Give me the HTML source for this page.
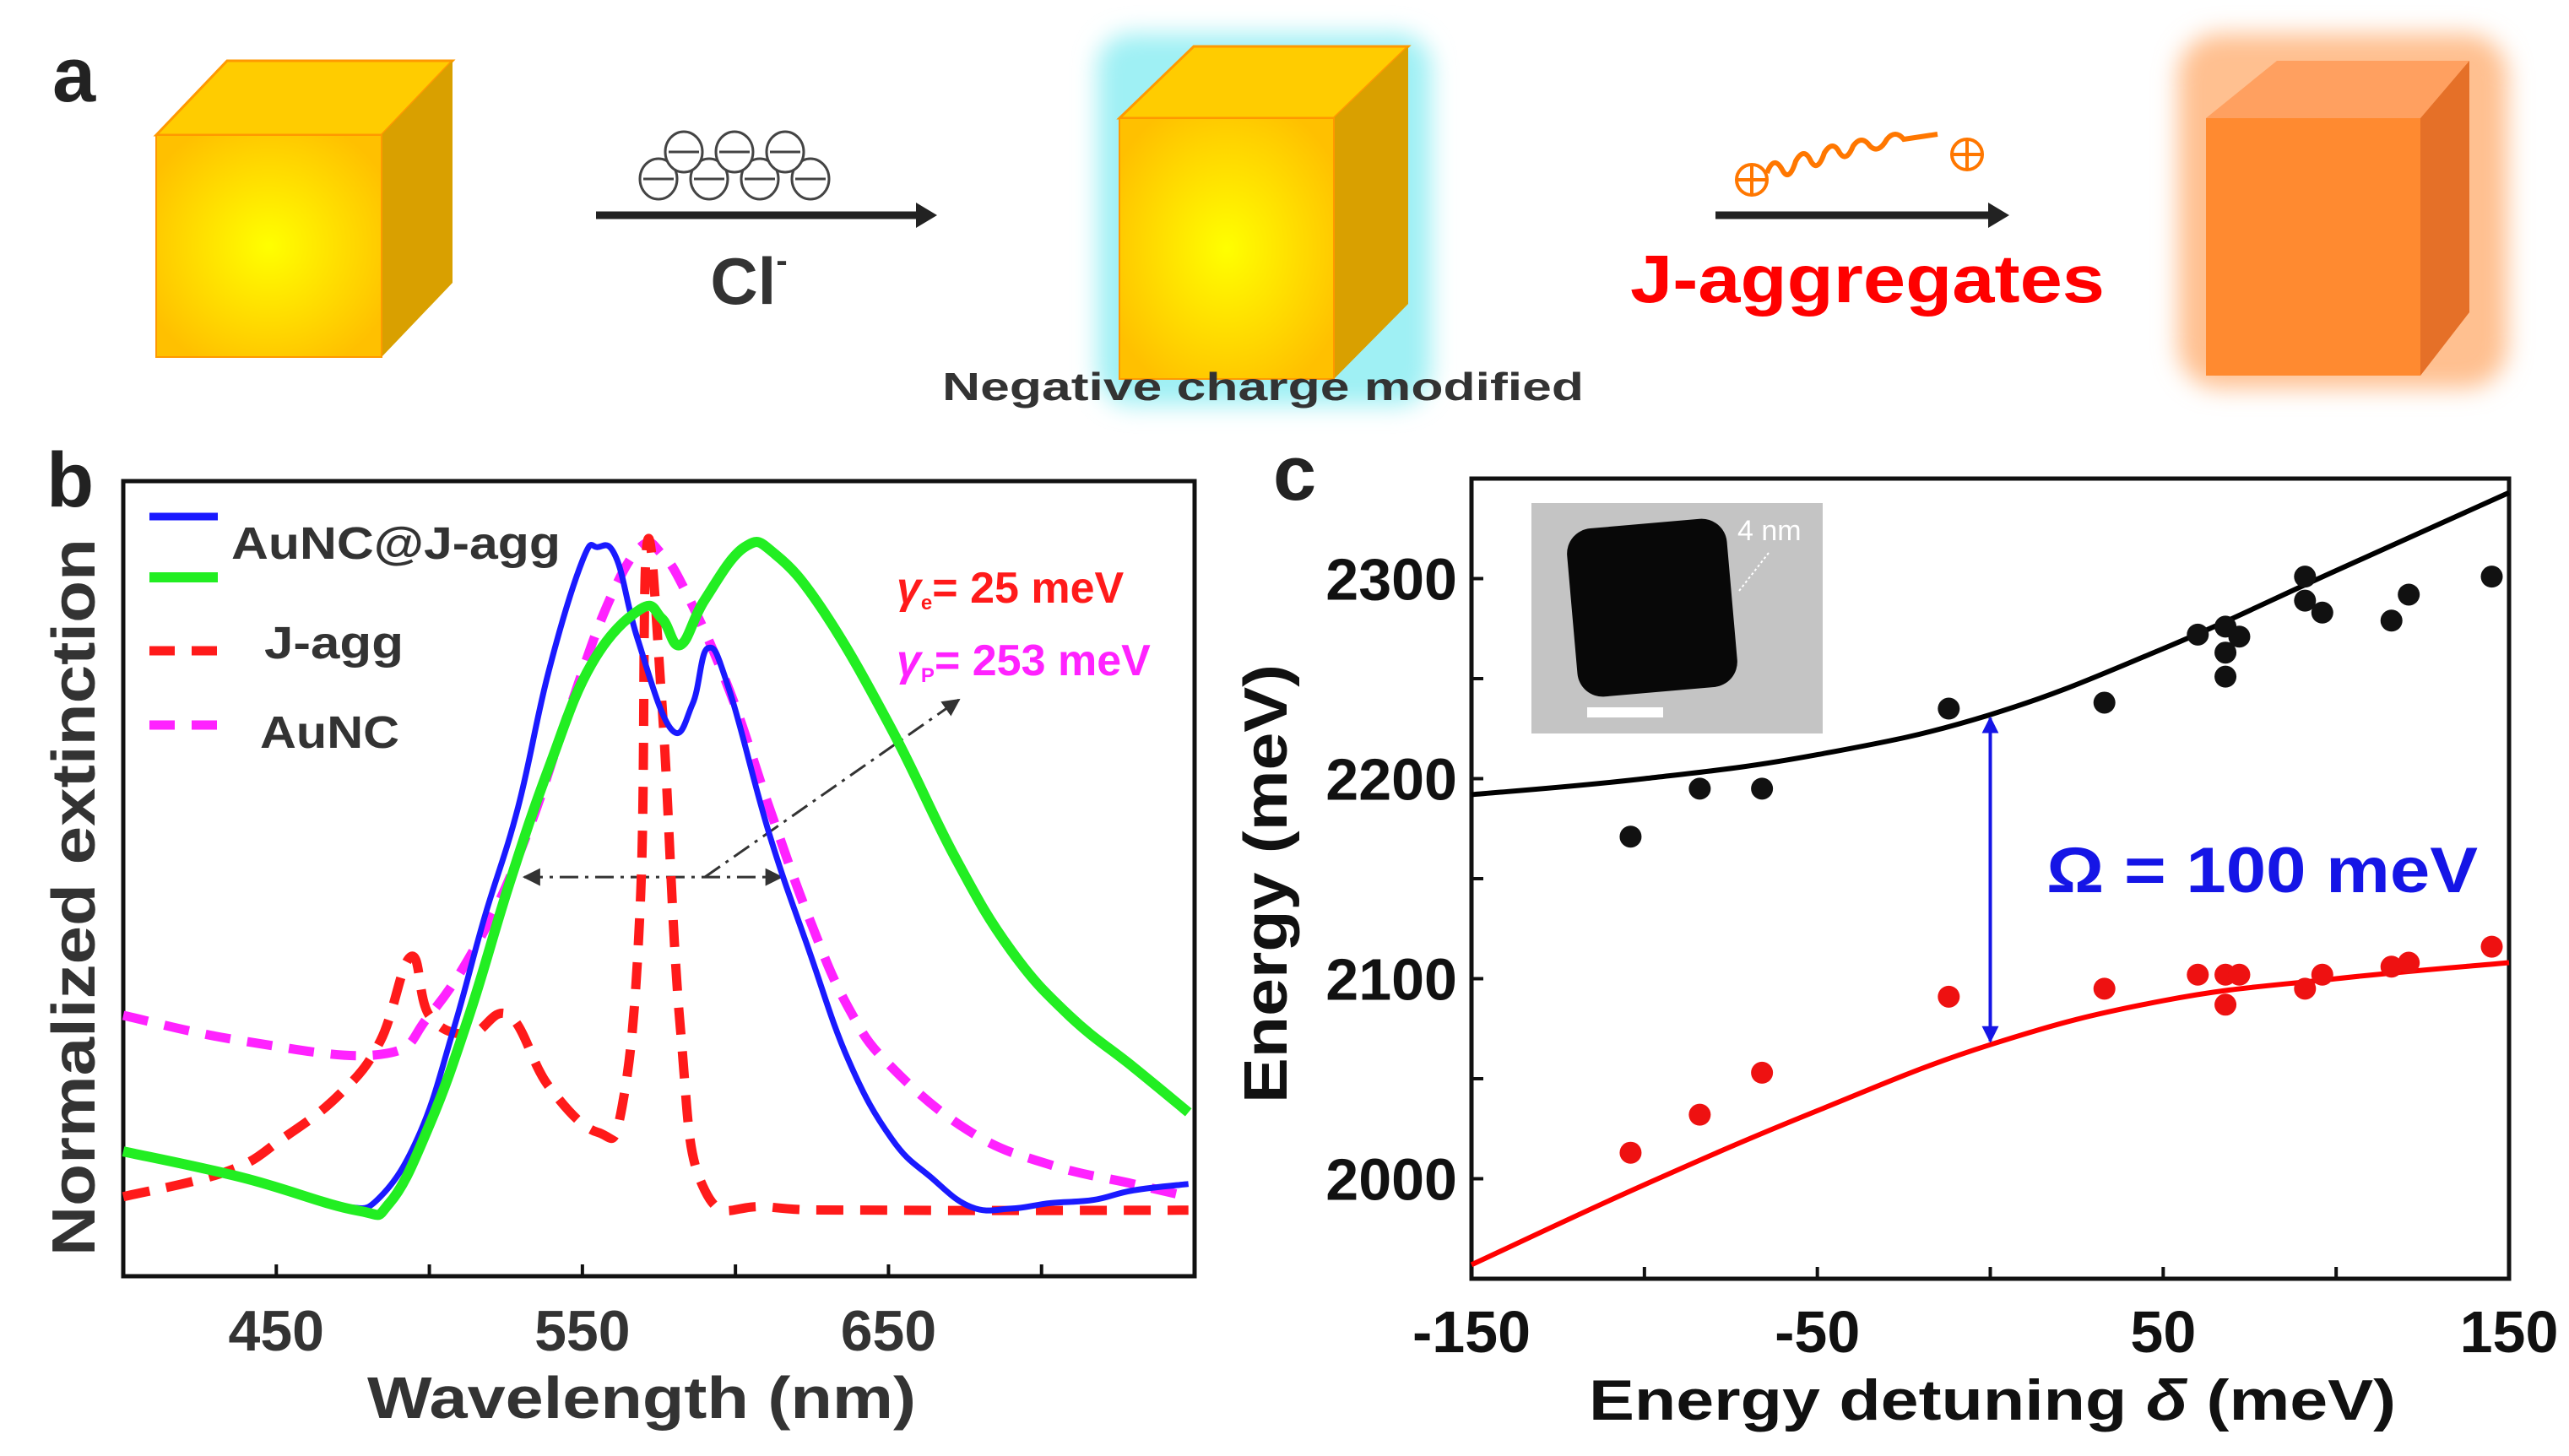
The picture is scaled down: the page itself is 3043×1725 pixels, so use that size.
<!DOCTYPE html>
<html><head><meta charset="utf-8">
<style>
html,body{margin:0;padding:0;background:#fff;}
svg{display:block;font-family:"Liberation Sans",Arial,sans-serif;}
</style></head>
<body>
<svg id="fig" width="3043" height="1725" viewBox="0 0 3043 1725" xmlns="http://www.w3.org/2000/svg">
<defs>
  <radialGradient id="frontR" cx="0.5" cy="0.5" r="0.6">
    <stop offset="0" stop-color="#ffff00"/><stop offset="1" stop-color="#ffc000"/>
  </radialGradient>
  <filter id="blur20"><feGaussianBlur stdDeviation="14"/></filter>
  <marker id="arrH" viewBox="0 0 10 10" refX="9" refY="5" markerWidth="7" markerHeight="7" orient="auto-start-reverse"><path d="M0,0 L10,5 L0,10 z" fill="#333"/></marker>
  <marker id="arrB" viewBox="0 0 10 10" refX="9" refY="5" markerWidth="5" markerHeight="5" orient="auto-start-reverse"><path d="M0,0 L10,5 L0,10 z" fill="#1515e6"/></marker>
</defs>

<!-- Panel a -->
<g>
  <text x="62" y="120" font-size="92" font-weight="bold" fill="#222">a</text>
  <g>
    <polygon points="185,160 269,72 536,72 452,160" fill="#ffcc00" stroke="#ff9900" stroke-width="3"/>
    <polygon points="452,160 536,72 536,335 452,423" fill="#d9a000"/>
    <rect x="185" y="160" width="267" height="263" fill="url(#frontR)" stroke="#ff9900" stroke-width="2"/>
  </g>
  <g>
    <line x1="706" y1="255" x2="1090" y2="255" stroke="#222" stroke-width="9"/>
    <polygon points="1085,240 1110,255 1085,270" fill="#222"/>
  </g>
  <g fill="#fff" stroke="#444" stroke-width="3">
    <ellipse cx="780" cy="212" rx="22" ry="24"/><line x1="762" y1="212" x2="798" y2="212"/>
    <ellipse cx="840" cy="212" rx="22" ry="24"/><line x1="822" y1="212" x2="858" y2="212"/>
    <ellipse cx="900" cy="212" rx="22" ry="24"/><line x1="882" y1="212" x2="918" y2="212"/>
    <ellipse cx="960" cy="212" rx="22" ry="24"/><line x1="942" y1="212" x2="978" y2="212"/>
    <ellipse cx="810" cy="180" rx="22" ry="24"/><line x1="792" y1="180" x2="828" y2="180"/>
    <ellipse cx="870" cy="180" rx="22" ry="24"/><line x1="852" y1="180" x2="888" y2="180"/>
    <ellipse cx="930" cy="180" rx="22" ry="24"/><line x1="912" y1="180" x2="948" y2="180"/>
  </g>
  <text x="887" y="360" font-size="78" font-weight="bold" fill="#333" text-anchor="middle">Cl<tspan font-size="40" dy="-38">-</tspan></text>
  <g>
    <rect x="1300" y="40" width="395" height="440" rx="40" fill="#9ff0f4" filter="url(#blur20)"/>
    <polygon points="1326,140 1414,55 1668,55 1580,140" fill="#ffcc00" stroke="#ff9900" stroke-width="3"/>
    <polygon points="1580,140 1668,55 1668,360 1580,449" fill="#d9a000"/>
    <rect x="1326" y="140" width="254" height="309" fill="url(#frontR)" stroke="#ff9900" stroke-width="2"/>
  </g>
  <text x="1116" y="474" font-size="46" font-weight="bold" fill="#333" textLength="760" lengthAdjust="spacingAndGlyphs">Negative charge modified</text>
  <g fill="none" stroke="#ff7700" stroke-width="6">
    <circle cx="2075" cy="213" r="18" stroke-width="4"/><line x1="2057" y1="213" x2="2093" y2="213" stroke-width="4"/><line x1="2075" y1="195" x2="2075" y2="231" stroke-width="4"/>
    <path d="M2093,205 q8,-22 18,-4 q8,16 16,-10 q10,-18 18,0 q8,14 16,-10 q10,-16 18,0 q8,12 16,-8 q10,-14 20,0 q10,10 20,-8 q10,-12 20,0 l40,-6"/>
    <circle cx="2330" cy="183" r="18" stroke-width="4"/><line x1="2312" y1="183" x2="2348" y2="183" stroke-width="4"/><line x1="2330" y1="165" x2="2330" y2="201" stroke-width="4"/>
  </g>
  <g>
    <line x1="2032" y1="255" x2="2360" y2="255" stroke="#222" stroke-width="9"/>
    <polygon points="2355,240 2380,255 2355,270" fill="#222"/>
  </g>
  <text x="1931" y="358" font-size="80" font-weight="bold" fill="#ff0000" textLength="562" lengthAdjust="spacingAndGlyphs">J-aggregates</text>
  <g>
    <rect x="2580" y="40" width="390" height="420" rx="50" fill="#ffc090" filter="url(#blur20)"/>
    <polygon points="2613,140 2697,72 2925,72 2867,140" fill="#ffa060"/>
    <polygon points="2867,140 2925,72 2925,370 2867,445" fill="#e57028"/>
    <rect x="2613" y="140" width="254" height="305" fill="#ff8a30"/>
  </g>
</g>

<!-- Panel b -->
<g id="pb">
  <text x="55" y="600" font-size="92" font-weight="bold" fill="#222">b</text>
</g>
<!-- Panel c -->
<g id="pc">
  <text x="1508" y="592" font-size="92" font-weight="bold" fill="#222">c</text>
</g>
</svg>
<script>
// ---------- Panel b data ----------
const wlBlue  = [400,428,452,473,484,497,508,518,529,539,550,555,561,568,579,586,591,598,611,624,637,651,664,677,690,703,717,730,748];
const extBlue = [0.157,0.136,0.108,0.087,0.10,0.181,0.312,0.451,0.59,0.761,0.90,0.917,0.904,0.802,0.688,0.72,0.79,0.737,0.557,0.41,0.271,0.173,0.124,0.087,0.085,0.092,0.096,0.108,0.116];
const wlGreen  = [400,439,476,487,500,513,526,539,553,569,576,582,590,603,613,629,651,672,690,709,730,748];
const extGreen = [0.157,0.124,0.083,0.092,0.19,0.328,0.492,0.639,0.77,0.839,0.827,0.794,0.851,0.917,0.908,0.835,0.688,0.525,0.41,0.328,0.263,0.206];
const wlAuNC  = [400,439,484,500,518,532,545,558,569,576,584,598,611,624,637,651,677,703,730,748];
const extAuNC = [0.328,0.296,0.279,0.328,0.435,0.557,0.704,0.843,0.917,0.908,0.859,0.737,0.59,0.451,0.337,0.263,0.181,0.14,0.116,0.10];
const wlJ  = [400,434,452,471,484,494,500,513,526,539,555,563,569,571,576,582,590,611,651,748];
const extJ = [0.10,0.132,0.173,0.23,0.296,0.402,0.328,0.304,0.328,0.239,0.181,0.214,0.475,0.917,0.72,0.312,0.108,0.087,0.083,0.083];
const bTicks = [450,550,650];
const bMinor = [400,450,500,550,600,650,700,750];

// ---------- Panel c data ----------
const detuneFit = [-150,-100,-50,0,50,100,150];
const upperFit  = [2192,2200,2212,2232,2265,2304,2343];
const lowerFit  = [1957,1997,2034,2067,2089,2100,2108];
const upperDetune = [-104,-84,-66,-12,33,60,68,68,68,72,91,91,96,116,121,145];
const upperEnergy = [2171,2195,2195,2235,2238,2272,2276,2263,2251,2271,2301,2289,2283,2279,2292,2301];
const lowerDetune = [-104,-84,-66,-12,33,60,68,68,72,91,96,116,121,145];
const lowerEnergy = [2013,2032,2053,2091,2095,2102,2102,2087,2102,2095,2102,2106,2108,2116];
const cXTicks = [-150,-50,50,150];
const cXMinor = [-150,-100,-50,0,50,100,150];
const cYTicks = [2000,2100,2200,2300];
const cYMinor = [2050,2150,2250];

const NS = 'http://www.w3.org/2000/svg';
function mk(parent, tag, attrs, text){
  const e = document.createElementNS(NS, tag);
  for (const k in attrs) e.setAttribute(k, attrs[k]);
  if (text !== undefined) e.textContent = text;
  parent.appendChild(e);
  return e;
}
// smooth Catmull-Rom path
function pathD(xs, ys, fx, fy){
  const P = xs.map((v,i)=>[fx(v), fy(ys[i])]);
  let d = 'M'+P[0][0].toFixed(1)+','+P[0][1].toFixed(1);
  for (let i=0;i<P.length-1;i++){
    const p0=P[Math.max(0,i-1)], p1=P[i], p2=P[i+1], p3=P[Math.min(P.length-1,i+2)];
    const t=0.2;
    const c1=[p1[0]+(p2[0]-p0[0])*t, p1[1]+(p2[1]-p0[1])*t];
    const c2=[p2[0]-(p3[0]-p1[0])*t, p2[1]-(p3[1]-p1[1])*t];
    d += ' C'+c1[0].toFixed(1)+','+c1[1].toFixed(1)+' '+c2[0].toFixed(1)+','+c2[1].toFixed(1)+' '+p2[0].toFixed(1)+','+p2[1].toFixed(1);
  }
  return d;
}

// ---- Panel b ----
const pb = document.getElementById('pb');
const bL=146,bR=1415,bT=570,bB=1512;
const bx = v => bL + (v-400)/(750-400)*(bR-bL);
const by = v => bB - v*(bB-bT);
let el;
el = mk(pb,'rect',{x:bL,y:bT,width:bR-bL,height:bB-bT,fill:'none',stroke:'#111','stroke-width':5});


bMinor.forEach(t=>{
  el = mk(pb,'line',{x1:bx(t),x2:bx(t),y1:bB,y2:bB-14,stroke:'#111','stroke-width':4});
  
  
});
bTicks.forEach(t=>{
  el = mk(pb,'text',{x:bx(t),y:1600,'font-size':68,'font-weight':'bold',fill:'#333','text-anchor':'middle'},String(t));
  
  
});
el = mk(pb,'text',{x:760,y:1680,'font-size':70,'font-weight':'bold',fill:'#333','text-anchor':'middle',textLength:650,lengthAdjust:'spacingAndGlyphs'},'Wavelength (nm)');


el = mk(pb,'text',{x:0,y:0,'font-size':72,'font-weight':'bold',fill:'#333','text-anchor':'middle',textLength:850,lengthAdjust:'spacingAndGlyphs',transform:'translate(112,1063) rotate(-90)'},'Normalized extinction');



// dash-dot FWHM arrows
el = mk(pb,'line',{x1:bx(531),x2:bx(615),y1:by(0.502),y2:by(0.502),stroke:'#333','stroke-width':3,'stroke-dasharray':'22,8,4,8','marker-start':'url(#arrH)','marker-end':'url(#arrH)'});


el = mk(pb,'line',{x1:bx(590),x2:bx(673),y1:by(0.502),y2:by(0.725),stroke:'#333','stroke-width':3,'stroke-dasharray':'22,8,4,8','marker-end':'url(#arrH)'});



el = mk(pb,'path',{d:pathD(wlAuNC,extAuNC,bx,by),fill:'none',stroke:'#ff22ff','stroke-width':11,'stroke-dasharray':'30,20','stroke-linejoin':'round'});


el = mk(pb,'path',{d:pathD(wlJ,extJ,bx,by),fill:'none',stroke:'#ff1a1a','stroke-width':11,'stroke-dasharray':'32,20','stroke-linejoin':'round'});


el = mk(pb,'path',{d:pathD(wlBlue,extBlue,bx,by),fill:'none',stroke:'#1a1aff','stroke-width':7,'stroke-linejoin':'round'});


el = mk(pb,'path',{d:pathD(wlGreen,extGreen,bx,by),fill:'none',stroke:'#22ee22','stroke-width':12,'stroke-linejoin':'round'});



// legend
const legItems = [
  {y:612, c:'#1a1aff', w:9, dash:''},
  {y:684, c:'#22ee22', w:12, dash:''},
  {y:771, c:'#ff1a1a', w:11, dash:'30,20'},
  {y:859, c:'#ff22ff', w:11, dash:'30,20'}
];
legItems.forEach(it=>{
  el = mk(pb,'line',{x1:177,x2:258,y1:it.y,y2:it.y,stroke:it.c,'stroke-width':it.w,'stroke-dasharray':it.dash});
  
  
});
el = mk(pb,'text',{x:274,y:662,'font-size':54,'font-weight':'bold',fill:'#333',textLength:390,lengthAdjust:'spacingAndGlyphs'},'AuNC@J-agg');


el = mk(pb,'text',{x:313,y:780,'font-size':54,'font-weight':'bold',fill:'#333',textLength:165,lengthAdjust:'spacingAndGlyphs'},'J-agg');


el = mk(pb,'text',{x:308,y:886,'font-size':54,'font-weight':'bold',fill:'#333',textLength:165,lengthAdjust:'spacingAndGlyphs'},'AuNC');


el = mk(pb,'text',{x:1062,y:714,'font-size':52,'font-weight':'bold',fill:'#ff1a1a'});
el.innerHTML = '<tspan font-style="italic">γ</tspan><tspan font-size="24" dy="8">e</tspan><tspan dy="-8">= 25 meV</tspan>';


el = mk(pb,'text',{x:1062,y:800,'font-size':52,'font-weight':'bold',fill:'#ff22ff'});
el.innerHTML = '<tspan font-style="italic">γ</tspan><tspan font-size="24" dy="8">P</tspan><tspan dy="-8">= 253 meV</tspan>';



// ---- Panel c ----
const pc = document.getElementById('pc');
const cL=1743,cR=2972,cT=567,cB=1515;
const cx = v => cL + (v+150)/300*(cR-cL);
const cy = v => cB - (v-1950)/400*(cB-cT);
el = mk(pc,'rect',{x:cL,y:cT,width:cR-cL,height:cB-cT,fill:'none',stroke:'#111','stroke-width':5});


cXMinor.forEach(t=>{
  el = mk(pc,'line',{x1:cx(t),x2:cx(t),y1:cB,y2:cB-14,stroke:'#111','stroke-width':4});
  
  
});
cXTicks.forEach(t=>{
  el = mk(pc,'text',{x:cx(t),y:1602,'font-size':70,'font-weight':'bold',fill:'#111','text-anchor':'middle'},String(t));
  
  
});
cYTicks.concat(cYMinor).forEach(t=>{
  el = mk(pc,'line',{x1:cL,x2:cL+14,y1:cy(t),y2:cy(t),stroke:'#111','stroke-width':4});
  
  
});
cYTicks.forEach(t=>{
  el = mk(pc,'text',{x:1726,y:cy(t)+25,'font-size':70,'font-weight':'bold',fill:'#111','text-anchor':'end'},String(t));
  
  
});
el = mk(pc,'text',{x:2360,y:1682,'font-size':68,'font-weight':'bold',fill:'#111','text-anchor':'middle',textLength:956,lengthAdjust:'spacingAndGlyphs'});
el.innerHTML = 'Energy detuning <tspan font-style="italic">δ</tspan> (meV)';


el = mk(pc,'text',{x:0,y:0,'font-size':72,'font-weight':'bold',fill:'#111','text-anchor':'middle',textLength:520,lengthAdjust:'spacingAndGlyphs',transform:'translate(1524,1047) rotate(-90)'},'Energy (meV)');



// inset TEM image
el = mk(pc,'rect',{x:1814,y:596,width:345,height:273,fill:'#c4c4c4'});


el = mk(pc,'rect',{x:1862,y:620,width:190,height:200,rx:30,fill:'#080808',transform:'rotate(-5 1957 720)'});


el = mk(pc,'rect',{x:1880,y:838,width:90,height:12,fill:'#fff'});


el = mk(pc,'text',{x:2058,y:640,'font-size':34,fill:'#fff'},'4 nm');


el = mk(pc,'line',{x1:2060,y1:700,x2:2095,y2:655,stroke:'#fff','stroke-width':2,'stroke-dasharray':'3,3'});



el = mk(pc,'path',{d:pathD(detuneFit,upperFit,cx,cy),fill:'none',stroke:'#000','stroke-width':6});


el = mk(pc,'path',{d:pathD(detuneFit,lowerFit,cx,cy),fill:'none',stroke:'#f00','stroke-width':6});


upperDetune.forEach((d,i)=>{
  el = mk(pc,'circle',{cx:cx(d),cy:cy(upperEnergy[i]),r:13,fill:'#111'});
  
  
});
lowerDetune.forEach((d,i)=>{
  el = mk(pc,'circle',{cx:cx(d),cy:cy(lowerEnergy[i]),r:13,fill:'#ee1111'});
  
  
});
const iz = detuneFit.indexOf(0);
el = mk(pc,'line',{x1:cx(0),x2:cx(0),y1:cy(upperFit[iz])+4,y2:cy(lowerFit[iz])-4,stroke:'#1515e6','stroke-width':4,'marker-start':'url(#arrB)','marker-end':'url(#arrB)'});


el = mk(pc,'text',{x:2424,y:1057,'font-size':76,'font-weight':'bold',fill:'#1515e6',textLength:511,lengthAdjust:'spacingAndGlyphs'},'Ω = 100 meV');


</script>
</body></html>
